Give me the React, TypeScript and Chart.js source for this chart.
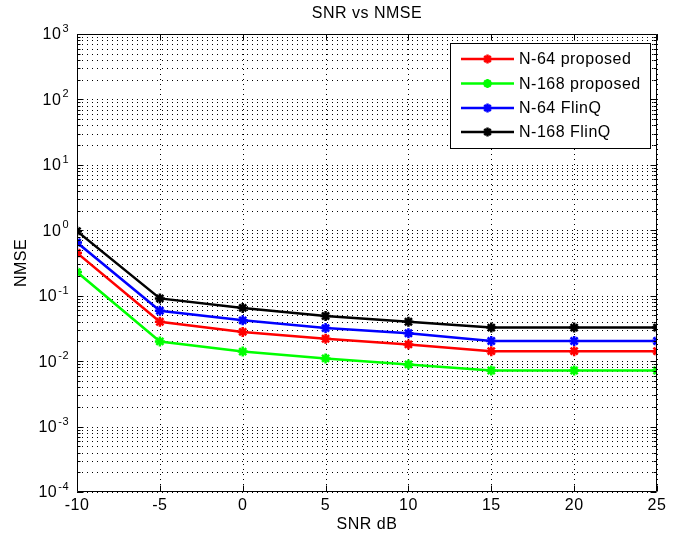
import React, { useEffect, useRef } from "react";
import { Chart, registerables } from "chart.js";

Chart.register(...registerables);

const snrDb = [-10, -5, 0, 5, 10, 15, 20, 25];
const n64Proposed = [0.45, 0.04, 0.028, 0.022, 0.018, 0.0142, 0.0142, 0.0142];
const n168Proposed = [0.23, 0.02, 0.014, 0.011, 0.0089, 0.0072, 0.0072, 0.0072];
const n64FlinQ = [0.65, 0.059, 0.042, 0.032, 0.0267, 0.0203, 0.0203, 0.0203];
const n168FlinQ = [0.97, 0.091, 0.065, 0.049, 0.04, 0.0326, 0.0326, 0.0326];

const seriesNames = ["N-64 proposed", "N-168 proposed", "N-64 FlinQ", "N-168 FlinQ"];
const seriesColors = ["#ff0000", "#00ff00", "#0000ff", "#000000"];
const seriesValues = [n64Proposed, n168Proposed, n64FlinQ, n168FlinQ];

const xTickValues = [-10, -5, 0, 5, 10, 15, 20, 25];
const yExponents = [-4, -3, -2, -1, 0, 1, 2, 3];

const chartTitle = "SNR vs NMSE";
const xTitle = "SNR dB";
const yTitle = "NMSE";

const FONT = '"Liberation Sans", Arial, Helvetica, sans-serif';

function setFont(ctx: CanvasRenderingContext2D, size: number) {
  ctx.font = `${size}px ${FONT}`;
  try {
    (ctx as any).letterSpacing = "0.5px";
  } catch (e) {}
}

function drawStar(ctx: CanvasRenderingContext2D, x: number, y: number, r: number, color: string, w: number) {
  ctx.save();
  ctx.strokeStyle = color;
  ctx.lineWidth = w;
  ctx.setLineDash([]);
  ctx.beginPath();
  ctx.moveTo(x - r, y);
  ctx.lineTo(x + r, y);
  ctx.moveTo(x, y - r);
  ctx.lineTo(x, y + r);
  const d = r * Math.SQRT1_2;
  ctx.moveTo(x - d, y - d);
  ctx.lineTo(x + d, y + d);
  ctx.moveTo(x - d, y + d);
  ctx.lineTo(x + d, y - d);
  ctx.stroke();
  ctx.restore();
}

const matlabPlugin = {
  id: "matlabLook",
  beforeDatasetsDraw(chart: any) {
    const { ctx, chartArea: ca, scales } = chart;
    const xs = scales.x;
    const ys = scales.y;
    ctx.save();
    ctx.strokeStyle = "#000";
    ctx.lineWidth = 1;
    ctx.setLineDash([1, 4]);
    // vertical grid
    for (const v of xTickValues) {
      const x = Math.round(xs.getPixelForValue(v)) + 0.5;
      ctx.beginPath();
      ctx.moveTo(x, ca.top);
      ctx.lineTo(x, ca.bottom);
      ctx.stroke();
    }
    // horizontal grid (major + minor)
    for (let i = 0; i < yExponents.length; i++) {
      const e = yExponents[i];
      const maxK = i === yExponents.length - 1 ? 1 : 9;
      for (let k = 1; k <= maxK; k++) {
        const y = Math.round(ys.getPixelForValue(k * Math.pow(10, e))) + 0.5;
        ctx.beginPath();
        ctx.moveTo(ca.left, y);
        ctx.lineTo(ca.right, y);
        ctx.stroke();
      }
    }
    ctx.restore();
  },
  afterDraw(chart: any) {
    const { ctx, chartArea: ca, scales } = chart;
    const xs = scales.x;
    const ys = scales.y;
    ctx.save();
    ctx.setLineDash([]);
    ctx.strokeStyle = "#000";
    ctx.lineWidth = 1;
    // box
    const L = Math.round(ca.left) + 0.5;
    const R = Math.round(ca.right) - 0.5;
    const T = Math.round(ca.top) + 0.5;
    const B = Math.round(ca.bottom) - 0.5;
    ctx.beginPath();
    ctx.moveTo(L, T);
    ctx.lineTo(R, T);
    ctx.lineTo(R, B);
    ctx.lineTo(L, B);
    ctx.closePath();
    ctx.stroke();
    // x ticks inward
    ctx.beginPath();
    for (const v of xTickValues) {
      const x = Math.round(xs.getPixelForValue(v)) + 0.5;
      ctx.moveTo(x, B);
      ctx.lineTo(x, B - 6);
      ctx.moveTo(x, T);
      ctx.lineTo(x, T + 6);
    }
    // y ticks inward
    for (let i = 0; i < yExponents.length; i++) {
      const e = yExponents[i];
      const maxK = i === yExponents.length - 1 ? 1 : 9;
      for (let k = 1; k <= maxK; k++) {
        const y = Math.round(ys.getPixelForValue(k * Math.pow(10, e))) + 0.5;
        const len = k === 1 ? 6 : 3;
        ctx.moveTo(L, y);
        ctx.lineTo(L + len, y);
        ctx.moveTo(R, y);
        ctx.lineTo(R - len, y);
      }
    }
    ctx.stroke();

    ctx.fillStyle = "#000";
    // x tick labels
    setFont(ctx, 16);
    ctx.textAlign = "center";
    ctx.textBaseline = "middle";
    for (const v of xTickValues) {
      ctx.fillText(String(v), xs.getPixelForValue(v), ca.bottom + 14);
    }
    // y tick labels with superscripts
    for (const e of yExponents) {
      const y = ys.getPixelForValue(Math.pow(10, e));
      setFont(ctx, 11);
      const es = String(e);
      const we = ctx.measureText(es).width;
      setFont(ctx, 16);
      const wb = ctx.measureText("10").width;
      const right = ca.left - 9;
      const start = right - we - wb;
      ctx.textAlign = "left";
      ctx.textBaseline = "middle";
      ctx.fillText("10", start, y + 1);
      setFont(ctx, 11);
      ctx.textBaseline = "alphabetic";
      ctx.fillText(es, start + wb + 1, y - 2);
    }
    // titles
    setFont(ctx, 16);
    ctx.textAlign = "center";
    ctx.textBaseline = "middle";
    const cx = (ca.left + ca.right) / 2;
    ctx.fillText(chartTitle, cx, 14);
    ctx.fillText(xTitle, cx, ca.bottom + 33);
    ctx.save();
    ctx.translate(22, (ca.top + ca.bottom) / 2);
    ctx.rotate(-Math.PI / 2);
    ctx.fillText(yTitle, 0, 0);
    ctx.restore();

    // legend
    const bx = 450.5, by = 43.5, bw = 200, bh = 105;
    ctx.fillStyle = "#fff";
    ctx.fillRect(bx, by, bw, bh);
    ctx.strokeStyle = "#000";
    ctx.lineWidth = 1;
    ctx.strokeRect(bx, by, bw, bh);
    const rowY = [59, 83.5, 108, 132];
    for (let i = 0; i < seriesNames.length; i++) {
      const y = rowY[i];
      ctx.strokeStyle = seriesColors[i];
      ctx.lineWidth = 2.5;
      ctx.beginPath();
      ctx.moveTo(461, y);
      ctx.lineTo(514, y);
      ctx.stroke();
      drawStar(ctx, 487.5, y, 4.5, seriesColors[i], 2.5);
      ctx.fillStyle = "#000";
      setFont(ctx, 16);
      ctx.textAlign = "left";
      ctx.textBaseline = "middle";
      ctx.fillText(seriesNames[i], 519, y + 1);
    }
    ctx.restore();
  },
};

export default function App() {
  const canvasRef = useRef<HTMLCanvasElement | null>(null);

  useEffect(() => {
    if (!canvasRef.current) return;
    const datasets = seriesNames.map((name, i) => ({
      label: name,
      data: snrDb.map((x, j) => ({ x, y: seriesValues[i][j] })),
      borderColor: seriesColors[i],
      backgroundColor: seriesColors[i],
      borderWidth: 2.5,
      pointStyle: "star" as const,
      pointRadius: 5,
      pointBorderWidth: 2.5,
      pointBorderColor: seriesColors[i],
      pointBackgroundColor: seriesColors[i],
      tension: 0,
      fill: false,
      order: seriesNames.length - 1 - i,
    }));
    const chart = new Chart(canvasRef.current, {
      type: "line",
      data: { datasets },
      options: {
        animation: false,
        responsive: true,
        maintainAspectRatio: false,
        devicePixelRatio: 1,
        layout: { padding: { top: 34, right: 19, left: 0, bottom: 0 } },
        plugins: {
          legend: { display: false },
          title: { display: false },
          tooltip: { enabled: false },
        },
        scales: {
          x: {
            type: "linear",
            min: -10,
            max: 25,
            grid: { display: false },
            border: { display: false },
            ticks: { display: false },
            afterFit: (s: any) => {
              s.height = 45;
            },
          },
          y: {
            type: "logarithmic",
            min: 1e-4,
            max: 1e3,
            grid: { display: false },
            border: { display: false },
            ticks: { display: false },
            afterFit: (s: any) => {
              s.width = 77;
            },
          },
        },
      },
      plugins: [matlabPlugin],
    } as any);
    return () => chart.destroy();
  }, []);

  return (
    <div
      style={{
        position: "fixed",
        left: 0,
        top: 0,
        width: 676,
        height: 537,
        background: "#fff",
      }}
    >
      <canvas ref={canvasRef} />
    </div>
  );
}
